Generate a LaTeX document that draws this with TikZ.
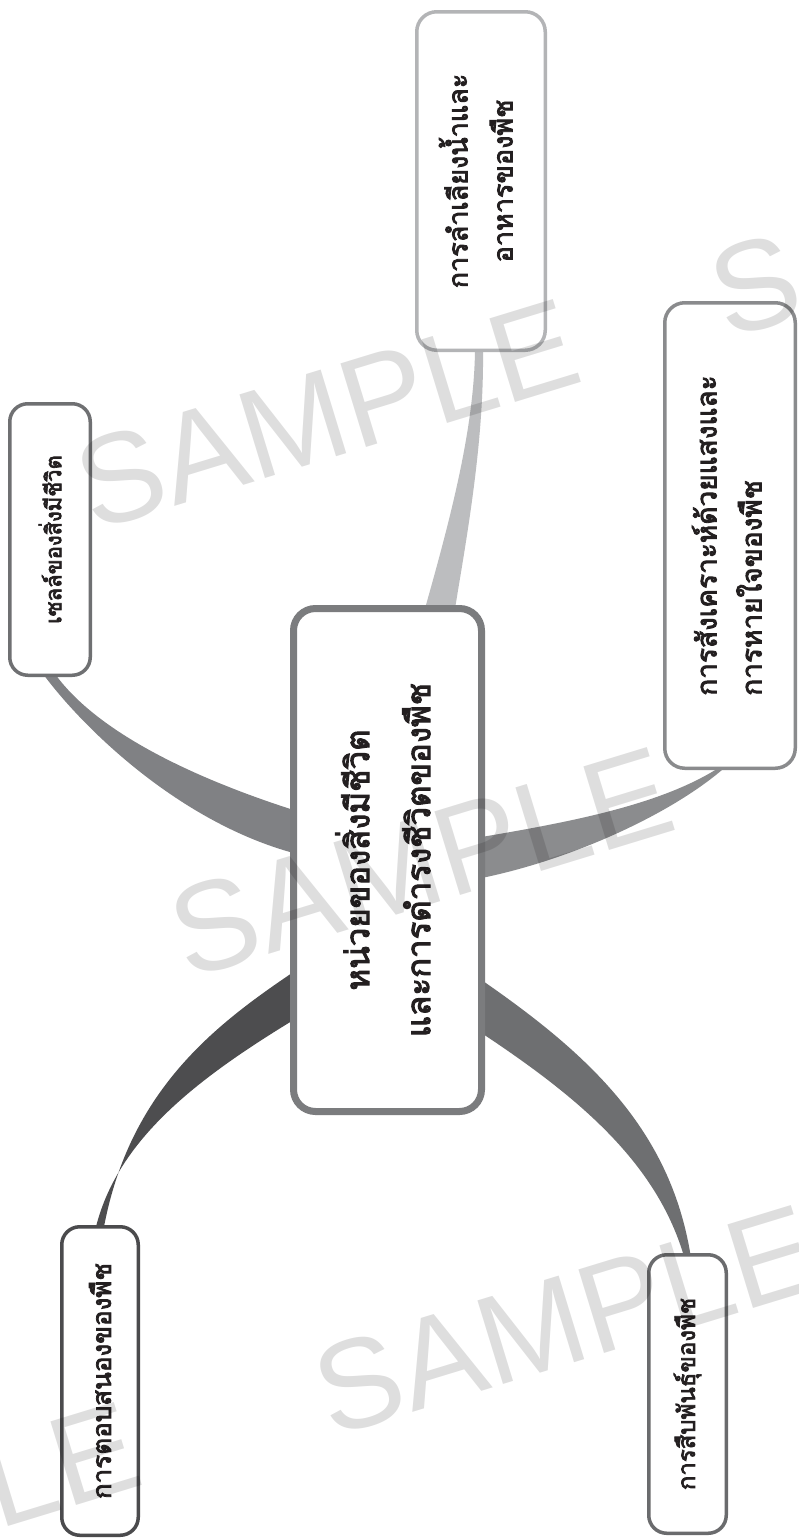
\documentclass[tikz,border=0pt]{standalone}
\usepackage{fontspec}
\newfontfamily\thai[Script=Thai,FakeBold=3]{Loma}
\setsansfont{Liberation Sans}
\usetikzlibrary{calc}
\pgfdeclarelayer{background}
\pgfdeclarelayer{front}
\pgfsetlayers{background,main,front}

\definecolor{txt}{HTML}{231F20}
\definecolor{cCtr}{HTML}{7B7C7E}
\definecolor{cTop}{HTML}{B3B4B6}
\definecolor{rTop}{HTML}{BCBDBF}
\definecolor{cRgt}{HTML}{8A8B8D}
\definecolor{rRgt}{HTML}{8B8C8E}
\definecolor{cTL}{HTML}{6F7072}
\definecolor{rTL}{HTML}{808184}
\definecolor{cBL}{HTML}{4B4B4D}
\definecolor{rBL}{HTML}{4D4D4F}
\definecolor{cBR}{HTML}{6A6B6D}
\definecolor{rBR}{HTML}{6E6F71}

% Thai text at a given size and line distance
\newcommand\thsize[2]{\thai\fontsize{#1}{#2}\selectfont}

\begin{document}
\begin{tikzpicture}[x=1pt,y=-1pt,
  box/.style={draw, fill=white, rounded corners=18pt, line width=3.5pt,
    inner sep=0pt, outer sep=0pt, text=txt},
  wm/.style={font=\sffamily\fontsize{127}{127}\selectfont, text=black,
    text opacity=0.13, rotate=17, anchor=base, inner sep=0pt}]
\useasboundingbox (0,0) rectangle (799,1539);
\begin{pgfonlayer}{background}
\fill[white] (0,0) rectangle (799,1539);
\end{pgfonlayer}

% central topic
\node[box, draw=cCtr, line width=7pt, rounded corners=22pt,
  minimum width=188pt, minimum height=503pt] (c) at (387.5,860)
  {\rotatebox{90}{\thsize{33}{61}\begin{tabular}{@{}c@{}}หน่วยของสิ่งมีชีวิต\\และการดำรงชีวิตของพืช\end{tabular}}};

% sub-topics
\node[box, draw=cTop, rounded corners=20pt,
  minimum width=128.5pt, minimum height=338.5pt] (t) at (481,181)
  {\rotatebox{90}{\thsize{27}{45}\begin{tabular}{@{}c@{}}การลำเลียงน้ำและ\\อาหารของพืช\end{tabular}}};
\node[box, draw=cRgt, rounded corners=20pt,
  minimum width=130.5pt, minimum height=465.5pt] (r) at (730,535.5)
  {\rotatebox{90}{\thsize{28}{45}\begin{tabular}{@{}l@{}}การสังเคราะห์ด้วยแสงและ\\การหายใจของพืช\end{tabular}}};
\node[box, draw=cTL,
  minimum width=80.5pt, minimum height=271.5pt] (tl) at (50,539.5)
  {\rotatebox{90}{\thsize{22}{30}เซลล์ของสิ่งมีชีวิต}};
\node[box, draw=cBL,
  minimum width=76.5pt, minimum height=308.5pt] (bl) at (100,1381)
  {\rotatebox{90}{\thsize{26}{30}การตอบสนองของพืช}};
\node[box, draw=cBR,
  minimum width=77.5pt, minimum height=278.5pt] (br) at (687.5,1394)
  {\rotatebox{90}{\thsize{24}{30}การสืบพันธุ์ของพืช}};

% tapered branches
\begin{pgfonlayer}{background}
\fill[rTL] ($(c.west)+(0,-50)$) .. controls (200,780) and (100,735) .. ($(tl.south)+(6,0)$)
  -- ($(tl.south)+(-6,0)$) .. controls (85,730) and (180,822) .. ($(c.west)+(0,-7)$) -- cycle;
\fill[rTop] ($(t.south)+(2,0)$) .. controls (484,440) and (468,530) .. ($(c.north)+(67.5,0)$)
  -- ($(c.north)+(37.5,0)$) .. controls (450,520) and (474,430) .. ($(t.south)+(-6,0)$) -- cycle;
\fill[rRgt] ($(c.east)+(0,-23)$) .. controls (570,822) and (660,805) .. ($(r.south)+(-12,0)$)
  -- ($(r.south)+(-6,0)$) .. controls (670,815) and (570,860) .. ($(c.east)+(0,18)$) -- cycle;
\fill[rBL] ($(c.west)+(0,112)$) .. controls (215,1025) and (130,1090) .. ($(bl.north)+(4,0)$)
  -- ($(bl.north)+(-4,0)$) .. controls (118,1140) and (195,1080) .. ($(c.west)+(0,160)$) -- cycle;
\fill[rBR] ($(c.east)+(0,120)$) .. controls (590,1055) and (670,1130) .. ($(br.north)+(3,0)$)
  -- ($(br.north)+(-4,0)$) .. controls (655,1160) and (575,1095) .. ($(c.east)+(0,173)$) -- cycle;
\end{pgfonlayer}

% watermark
\begin{pgfonlayer}{front}
\begin{scope}
\clip (0,0) rectangle (799,1539);
\node[wm] (w1) at (340,456) {SAMPLE};
\node[wm] (w2) at (434,904) {SAMPLE};
\node[wm] (w3) at (578,1362) {SAMPLE};
\node[wm] (w4) at (-99,1559) {SAMPLE};
\node[wm] (w5) at (974,264) {SAMPLE};
\end{scope}
\end{pgfonlayer}
\end{tikzpicture}
\end{document}
